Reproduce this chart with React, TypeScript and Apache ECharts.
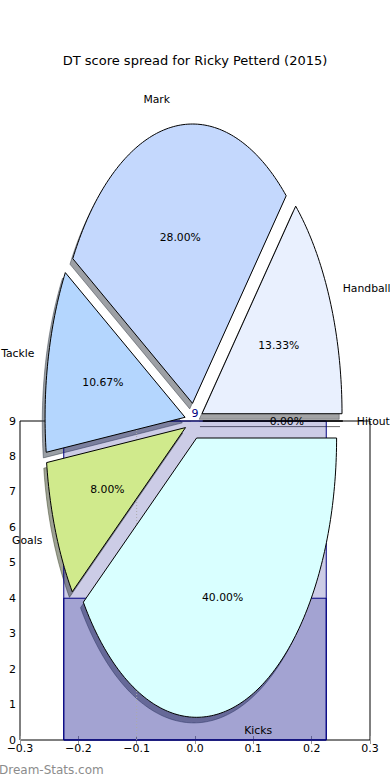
import React, { useEffect, useRef } from 'react';
import * as echarts from 'echarts';

const TITLE = 'DT score spread for Ricky Petterd (2015)';
const WATERMARK = 'Dream-Stats.com';

// pie data (DT points per stat)
const PIE_LABELS = ['Hitout', 'Handball', 'Mark', 'Tackle', 'Goals', 'Kicks'];
const PIE_VALUES = [0, 10, 21, 8, 6, 30];
const PIE_COLORS = ['#e0e0e0', '#e9f0fe', '#c4d8fd', '#b4d6fe', '#d0ea8c', '#d9ffff'];

// bar data
const BAR_X = [0, 0];
const BAR_HEIGHTS = [9, 4];
const BAR_LABELS = ['9', '4'];
const BAR_WIDTH = 0.45;

// dotted reference line
const VLINE_X = [-0.1];

// axes
const X_MIN = -0.3;
const X_MAX = 0.3;
const X_STEP = 0.1;
const Y_MIN = 0;
const Y_MAX = 9;
const Y_STEP = 1;

// pie layout (data units)
const PIE_CENTER = [-0.002, 9];
const PIE_RADIUS = [0.24, 7.88];
const EXPLODE = 0.064;
const SHADOW = 0.02;
const LABEL_DIST = 1.1;
const PCT_DIST = 0.6;

const FONT = 'DejaVu Sans';
const LABEL_SIZE = 10.8;

const TOTAL = PIE_VALUES.reduce((a, b) => a + b, 0);

function shadowColor(hex: string) {
  const r = parseInt(hex.slice(1, 3), 16) * 0.3;
  const g = parseInt(hex.slice(3, 5), 16) * 0.3;
  const b = parseInt(hex.slice(5, 7), 16) * 0.3;
  return `rgba(${Math.round(r)},${Math.round(g)},${Math.round(b)},0.5)`;
}

function geom(api: any, i: number) {
  const c = api.coord(PIE_CENTER);
  const e = api.coord([PIE_CENTER[0] + PIE_RADIUS[0], PIE_CENTER[1] + PIE_RADIUS[1]]);
  const rx = Math.abs(e[0] - c[0]);
  const ry = Math.abs(e[1] - c[1]);
  let before = 0;
  for (let k = 0; k < i; k++) before += PIE_VALUES[k];
  const a1 = (before / TOTAL) * Math.PI * 2;
  const a2 = ((before + PIE_VALUES[i]) / TOTAL) * Math.PI * 2;
  const am = (a1 + a2) / 2;
  const cx = c[0] + EXPLODE * rx * Math.cos(am);
  const cy = c[1] - EXPLODE * ry * Math.sin(am);
  return { cx, cy, rx, ry, a1, a2, am };
}

function wedgePoints(g: any, dx: number, dy: number) {
  const pts: number[][] = [[g.cx + dx, g.cy + dy]];
  const n = Math.max(2, Math.ceil(((g.a2 - g.a1) / (Math.PI * 2)) * 360));
  for (let k = 0; k <= n; k++) {
    const t = g.a1 + ((g.a2 - g.a1) * k) / n;
    pts.push([g.cx + dx + g.rx * Math.cos(t), g.cy + dy - g.ry * Math.sin(t)]);
  }
  return pts;
}

function fmtX(v: number) {
  if (Math.abs(v) < 1e-9) return '0.0';
  const s = v.toFixed(1);
  return s.replace('-', '\u2212');
}

export default function App() {
  const ref = useRef<HTMLDivElement>(null);
  useEffect(() => {
    if (!ref.current) return;
    const chart = echarts.init(ref.current, undefined, { renderer: 'svg' });
    const pieData = PIE_VALUES.map((v) => [PIE_CENTER[0], PIE_CENTER[1], v]);
    const axisTick = { show: true, inside: true, length: 4, lineStyle: { color: '#999', width: 1 } };
    const option: any = {
      animation: false,
      backgroundColor: '#fff',
      title: {
        text: TITLE,
        left: 'center',
        top: 54,
        padding: 0,
        textStyle: { fontSize: 13, fontWeight: 'normal', fontFamily: FONT, color: '#000' },
      },
      grid: {
        show: true,
        left: 20,
        right: 20,
        top: 421,
        bottom: 40,
        borderColor: '#000',
        borderWidth: 1,
        backgroundColor: 'transparent',
      },
      xAxis: [
        {
          type: 'value',
          position: 'bottom',
          min: X_MIN,
          max: X_MAX,
          interval: X_STEP,
          axisLine: { show: false },
          axisTick,
          splitLine: { show: false },
          axisLabel: {
            formatter: fmtX,
            fontSize: 11,
            fontFamily: FONT,
            color: '#000',
            margin: 3,
            showMinLabel: true,
            showMaxLabel: true,
          },
        },
        {
          type: 'value',
          position: 'top',
          min: X_MIN,
          max: X_MAX,
          interval: X_STEP,
          axisLine: { show: false },
          axisTick,
          splitLine: { show: false },
          axisLabel: { show: false },
        },
      ],
      yAxis: [
        {
          type: 'value',
          position: 'left',
          min: Y_MIN,
          max: Y_MAX,
          interval: Y_STEP,
          axisLine: { show: false },
          axisTick,
          splitLine: { show: false },
          axisLabel: { fontSize: 11, fontFamily: FONT, color: '#000', margin: 4 },
        },
        {
          type: 'value',
          position: 'right',
          min: Y_MIN,
          max: Y_MAX,
          interval: Y_STEP,
          axisLine: { show: false },
          axisTick,
          splitLine: { show: false },
          axisLabel: { show: false },
        },
      ],
      series: [
        {
          type: 'custom',
          name: 'shadows',
          z: 1,
          clip: false,
          silent: true,
          encode: { x: 0, y: 1 },
          data: pieData,
          renderItem: (params: any, api: any) => {
            const i = params.dataIndex;
            const g = geom(api, i);
            const col = shadowColor(PIE_COLORS[i]);
            return {
              type: 'polygon',
              shape: { points: wedgePoints(g, -SHADOW * g.rx, SHADOW * g.ry) },
              style: { fill: col, stroke: col, lineWidth: 1 },
            };
          },
        },
        {
          type: 'custom',
          name: 'bars',
          z: 2,
          clip: false,
          silent: true,
          encode: { x: 0, y: 1 },
          data: BAR_HEIGHTS.map((h, i) => [BAR_X[i], h]),
          renderItem: (params: any, api: any) => {
            const i = params.dataIndex;
            const x = api.value(0);
            const h = api.value(1);
            const p0 = api.coord([x - BAR_WIDTH / 2, h]);
            const p1 = api.coord([x + BAR_WIDTH / 2, 0]);
            return {
              type: 'group',
              children: [
                {
                  type: 'rect',
                  shape: { x: p0[0], y: p0[1], width: p1[0] - p0[0], height: p1[1] - p0[1] },
                  style: { fill: 'rgba(0,0,128,0.2)', stroke: '#000080', lineWidth: 1 },
                },
                {
                  type: 'text',
                  x: (p0[0] + p1[0]) / 2,
                  y: p0[1] - 2,
                  style: {
                    text: BAR_LABELS[i],
                    align: 'center',
                    verticalAlign: 'bottom',
                    fill: '#000080',
                    fontSize: 11,
                    fontFamily: FONT,
                  },
                },
              ],
            };
          },
        },
        {
          type: 'custom',
          name: 'vline',
          z: 2,
          clip: false,
          silent: true,
          encode: { x: 0, y: 1 },
          data: VLINE_X.map((x) => [x, Y_MAX]),
          renderItem: (params: any, api: any) => {
            const p0 = api.coord([api.value(0), Y_MIN]);
            const p1 = api.coord([api.value(0), api.value(1)]);
            return {
              type: 'line',
              shape: { x1: p0[0], y1: p0[1], x2: p1[0], y2: p1[1] },
              style: { stroke: '#aaaaaa', lineWidth: 1, lineDash: [1, 2] },
            };
          },
        },
        {
          type: 'custom',
          name: 'wedges',
          z: 3,
          clip: false,
          silent: true,
          encode: { x: 0, y: 1 },
          data: pieData,
          renderItem: (params: any, api: any) => {
            const i = params.dataIndex;
            const g = geom(api, i);
            return {
              type: 'polygon',
              shape: { points: wedgePoints(g, 0, 0) },
              style: { fill: PIE_COLORS[i], stroke: '#000', lineWidth: 1 },
            };
          },
        },
        {
          type: 'custom',
          name: 'labels',
          z: 4,
          clip: false,
          silent: true,
          encode: { x: 0, y: 1 },
          data: pieData,
          renderItem: (params: any, api: any) => {
            const i = params.dataIndex;
            const g = geom(api, i);
            const cosm = Math.cos(g.am);
            const sinm = Math.sin(g.am);
            const lx = g.cx + LABEL_DIST * g.rx * cosm;
            const ly = g.cy - LABEL_DIST * g.ry * sinm;
            const px = g.cx + PCT_DIST * g.rx * cosm;
            const py = g.cy - PCT_DIST * g.ry * sinm;
            const pct = ((PIE_VALUES[i] / TOTAL) * 100).toFixed(2) + '%';
            return {
              type: 'group',
              children: [
                {
                  type: 'text',
                  x: lx,
                  y: ly,
                  style: {
                    text: PIE_LABELS[i],
                    align: cosm >= 0 ? 'left' : 'right',
                    verticalAlign: 'middle',
                    fill: '#000',
                    fontSize: LABEL_SIZE,
                    fontFamily: FONT,
                  },
                },
                {
                  type: 'text',
                  x: px,
                  y: py,
                  style: {
                    text: pct,
                    align: 'center',
                    verticalAlign: 'middle',
                    fill: '#000',
                    fontSize: LABEL_SIZE,
                    fontFamily: FONT,
                  },
                },
              ],
            };
          },
        },
      ],
      graphic: [
        {
          type: 'text',
          left: -1,
          top: 764,
          z: 10,
          style: {
            text: WATERMARK,
            fill: '#8c8c8c',
            fontSize: 12,
            fontFamily: FONT,
          },
        },
      ],
    };
    chart.setOption(option);
    return () => chart.dispose();
  }, []);
  return (
    <div
      ref={ref}
      style={{ position: 'fixed', left: 0, top: 0, width: 390, height: 780, background: '#fff' }}
    />
  );
}
